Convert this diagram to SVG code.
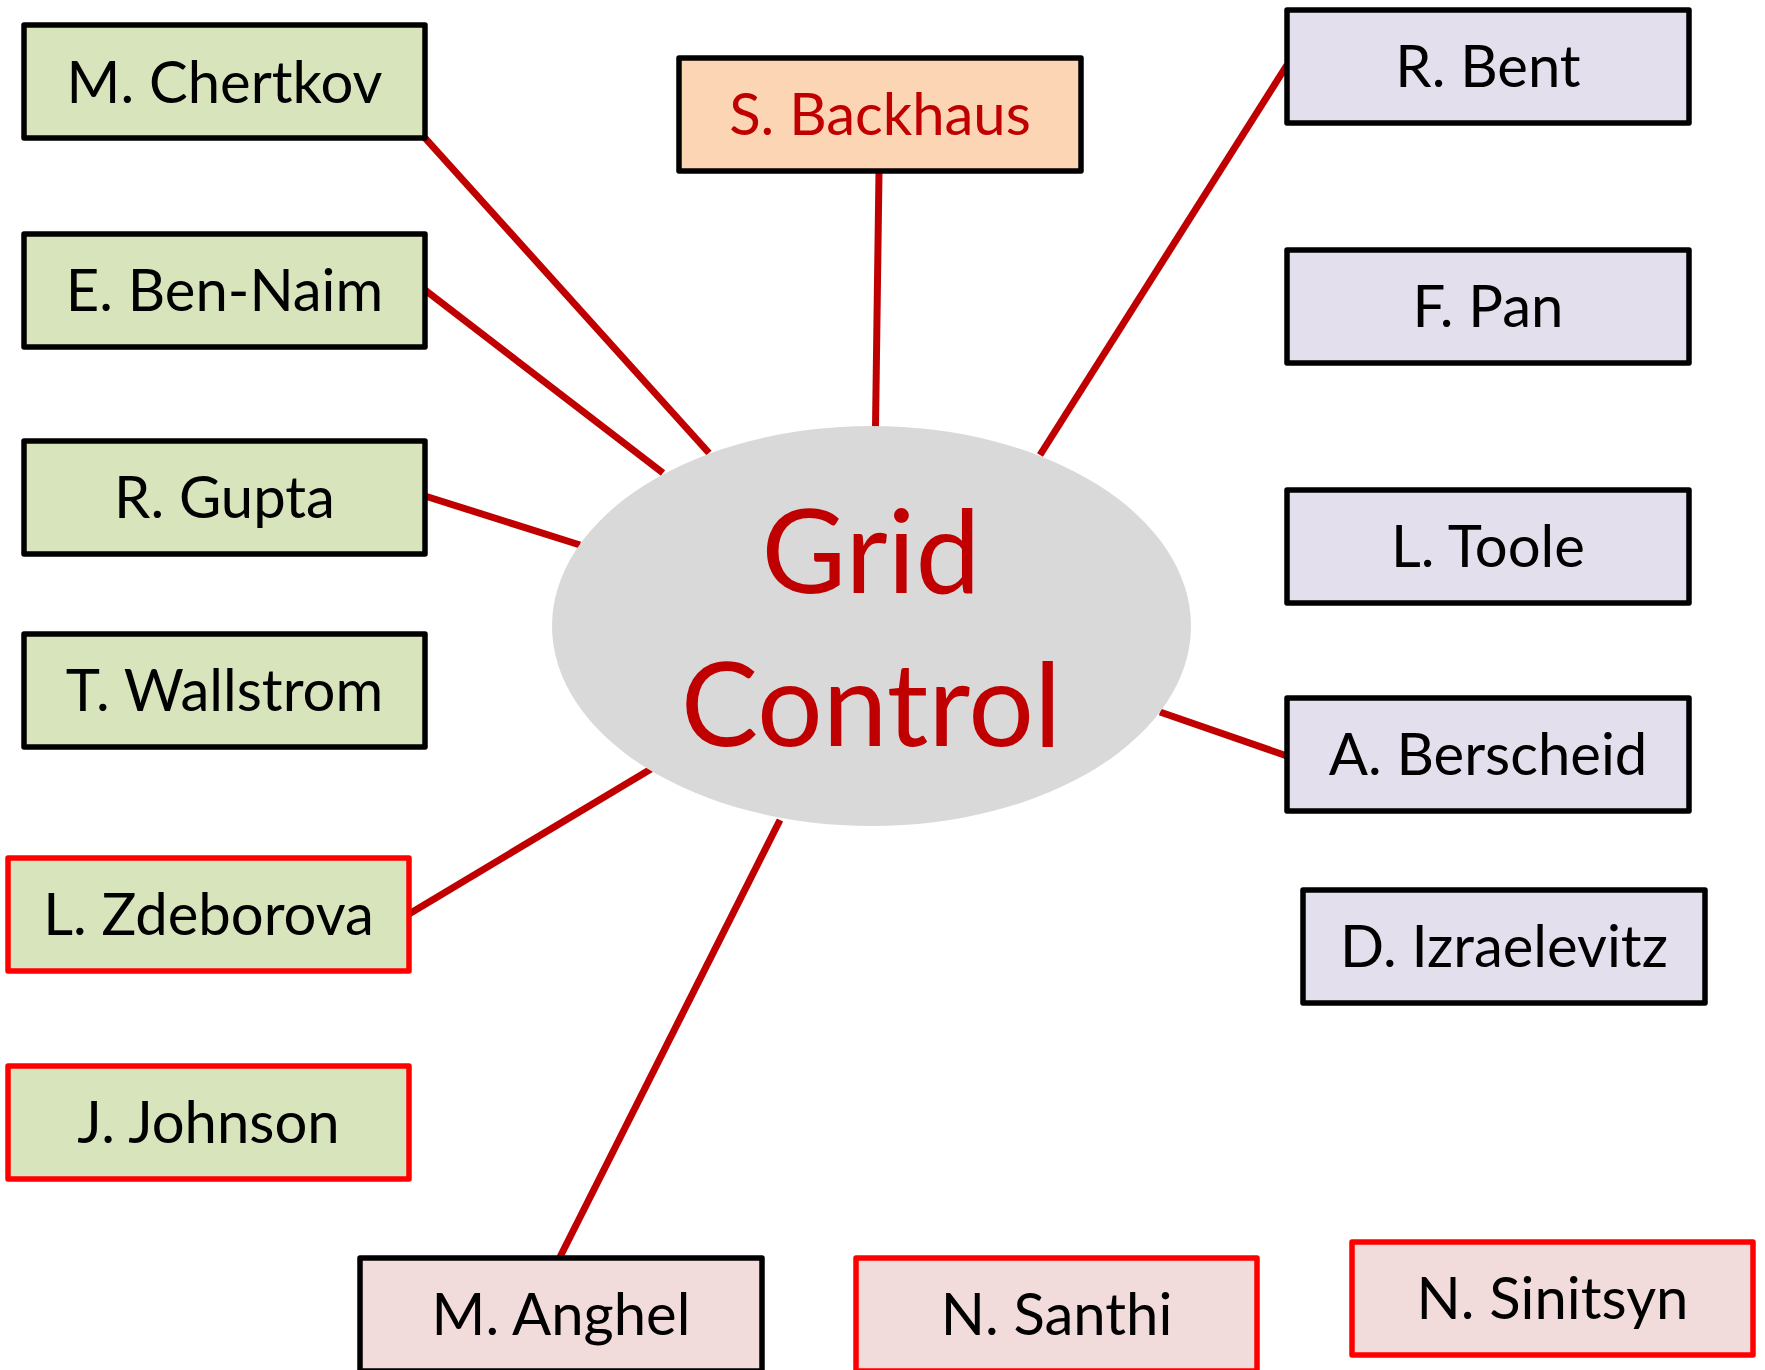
<svg xmlns="http://www.w3.org/2000/svg" width="1765" height="1370" viewBox="0 0 1765 1370">
<style>
.box{stroke:#000;stroke-width:5.5;stroke-linejoin:round}
.rb{stroke:#FF0000}
.g{fill:#D8E4BC}
.o{fill:#FCD5B4}
.v{fill:#E4DFEC}
.p{fill:#F2DCDB}
.t{font-family:Lato,"Open Sans","Liberation Sans",sans-serif;font-size:58px;fill:#000;text-anchor:middle}
.red{fill:#C00000}
.big{font-family:Lato,"Open Sans","Liberation Sans",sans-serif;font-size:116px;fill:#C00000;text-anchor:middle}
.c{stroke:#C00000;stroke-width:7;fill:none}
</style>
<rect width="1765" height="1370" fill="#fff"/>
<g id="connectors">
<line class="c" x1="425" y1="138" x2="709" y2="453"/>
<line class="c" x1="425" y1="290" x2="663" y2="473"/>
<line class="c" x1="425" y1="496" x2="580" y2="545"/>
<line class="c" x1="409" y1="914" x2="651" y2="769"/>
<line class="c" x1="560" y1="1257" x2="780" y2="820"/>
<line class="c" x1="879" y1="172" x2="875.5" y2="427"/>
<line class="c" x1="1287" y1="65" x2="1040" y2="455"/>
<line class="c" x1="1287" y1="756" x2="1160" y2="712"/>
</g>
<g id="grid-control">
<ellipse cx="871.5" cy="626" rx="319.5" ry="200" fill="#D9D9D9"/>
<text class="big" x="871" y="593">Grid</text>
<text class="big" x="871" y="746">Control</text>
</g>
<g id="chertkov"><rect class="box g" x="24" y="25" width="401" height="113"/><text class="t" x="224.5" y="103">M. Chertkov</text></g>
<g id="ben-naim"><rect class="box g" x="24" y="234" width="401" height="113"/><text class="t" x="224.5" y="311">E. Ben-Naim</text></g>
<g id="gupta"><rect class="box g" x="24" y="441" width="401" height="113"/><text class="t" x="224.5" y="518">R. Gupta</text></g>
<g id="wallstrom"><rect class="box g" x="24" y="634" width="401" height="113"/><text class="t" x="224.5" y="711">T. Wallstrom</text></g>
<g id="zdeborova"><rect class="box g rb" x="8" y="858" width="401" height="113"/><text class="t" x="208.5" y="935">L. Zdeborova</text></g>
<g id="johnson"><rect class="box g rb" x="8" y="1066" width="401" height="113"/><text class="t" x="208.5" y="1143">J. Johnson</text></g>
<g id="backhaus"><rect class="box o" x="679" y="58" width="402" height="113"/><text class="t red" x="880" y="135">S. Backhaus</text></g>
<g id="bent"><rect class="box v" x="1287" y="10" width="402" height="113"/><text class="t" x="1488" y="87">R. Bent</text></g>
<g id="pan"><rect class="box v" x="1287" y="250" width="402" height="113"/><text class="t" x="1488" y="327">F. Pan</text></g>
<g id="toole"><rect class="box v" x="1287" y="490" width="402" height="113"/><text class="t" x="1488" y="567">L. Toole</text></g>
<g id="berscheid"><rect class="box v" x="1287" y="698" width="402" height="113"/><text class="t" x="1488" y="775">A. Berscheid</text></g>
<g id="izraelevitz"><rect class="box v" x="1303" y="890" width="402" height="113"/><text class="t" x="1504" y="967">D. Izraelevitz</text></g>
<g id="anghel"><rect class="box p" x="360" y="1258" width="402" height="113"/><text class="t" x="561" y="1335">M. Anghel</text></g>
<g id="santhi"><rect class="box p rb" x="856" y="1258" width="401" height="113"/><text class="t" x="1056.5" y="1335">N. Santhi</text></g>
<g id="sinitsyn"><rect class="box p rb" x="1352" y="1242" width="401" height="113"/><text class="t" x="1552.5" y="1319">N. Sinitsyn</text></g>
</svg>
